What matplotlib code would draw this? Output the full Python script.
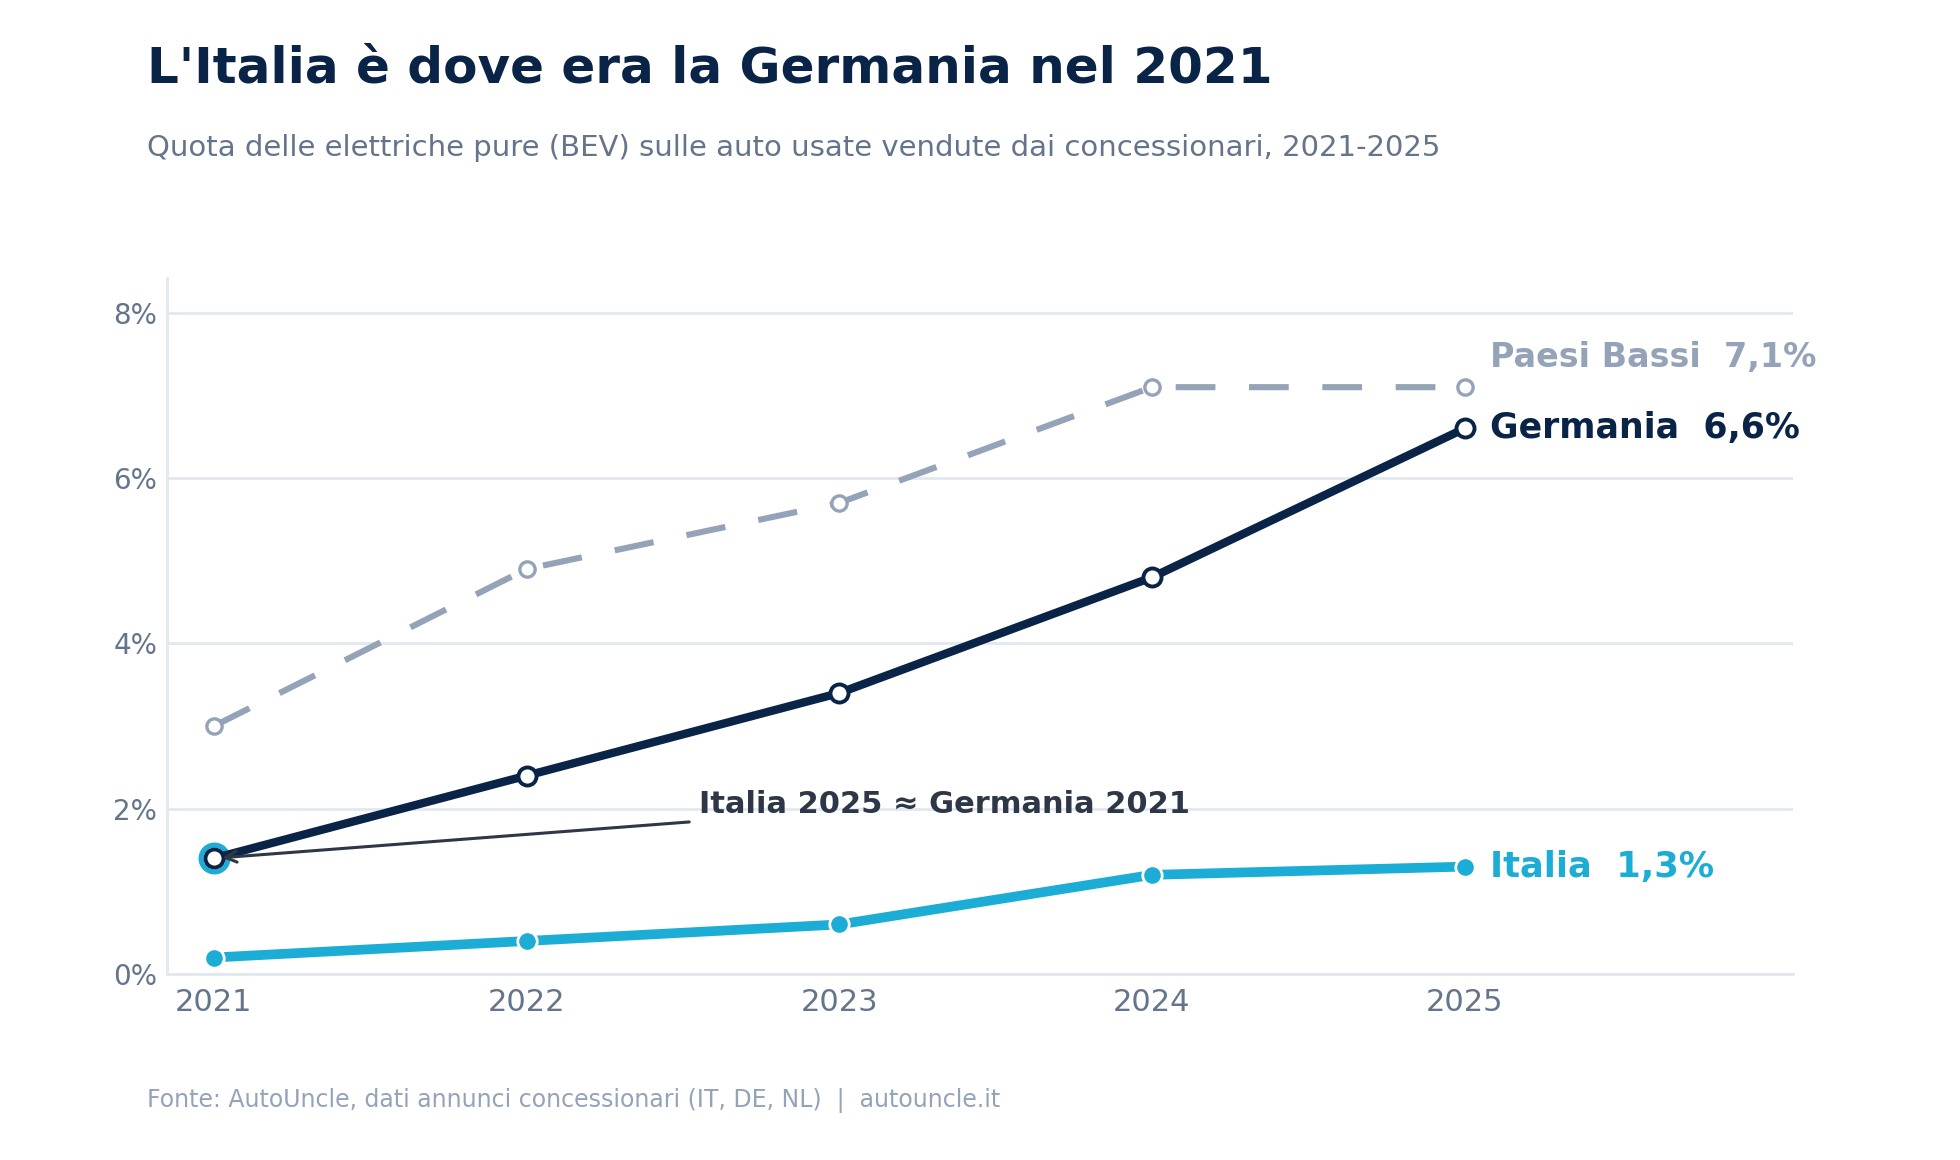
import matplotlib
matplotlib.use("Agg")
import matplotlib.pyplot as plt

# data
years = [2021, 2022, 2023, 2024, 2025]
paesi_bassi = [3.0, 4.9, 5.7, 7.1, 7.1]
germania = [1.4, 2.4, 3.4, 4.8, 6.6]
italia = [0.2, 0.4, 0.6, 1.2, 1.3]
y_ticks = [0, 2, 4, 6, 8]

title = "L'Italia è dove era la Germania nel 2021"
subtitle = "Quota delle elettriche pure (BEV) sulle auto usate vendute dai concessionari, 2021-2025"
footer = "Fonte: AutoUncle, dati annunci concessionari (IT, DE, NL)  |  autouncle.it"
note = "Italia 2025 ≈ Germania 2021"

NAVY = "#0a2447"
CYAN = "#1badd6"
GREY = "#94a3b8"
MUTED = "#64748b"
GRID = "#e2e8f0"


def fmt(v):
	return ("%.1f%%" % v).replace(".", ",")


def main():
	plt.rcParams['font.family'] = ['DejaVu Sans']
	fig = plt.figure(figsize=(9.8, 5.8), dpi=200)
	ax = fig.add_axes([0.0852, 0.1603, 0.8296, 0.6])

	# grid + spines
	ax.set_axisbelow(True)
	ax.grid(axis='y', color=GRID, lw=1.0)
	for s in ['top', 'right']:
		ax.spines[s].set_visible(False)
	for s in ['left', 'bottom']:
		ax.spines[s].set_color(GRID)
		ax.spines[s].set_linewidth(1.0)

	# series
	ax.plot(years, paesi_bassi, color=GREY, lw=2.2, dashes=(6.5, 5.5),
			marker='o', ms=5.5, mfc='white', mec=GREY, mew=1.2, zorder=3)
	ax.plot(years, italia, color=CYAN, lw=3.5, solid_capstyle='round',
			marker='o', ms=7, mfc=CYAN, mec='white', mew=1.0, zorder=4)
	# highlight ring around Germania 2021
	ax.plot(years[0], germania[0], marker='o', ms=9.7, mfc='none', mec=CYAN,
			mew=1.8, zorder=5)
	ax.plot(years, germania, color=NAVY, lw=3.0, solid_capstyle='round',
			marker='o', ms=6.5, mfc='white', mec=NAVY, mew=1.4, zorder=6)

	# end labels
	ax.text(2025.08, paesi_bassi[-1] + 0.36, "Paesi Bassi  " + fmt(paesi_bassi[-1]),
			color=GREY, fontsize=12, fontweight='bold', va='center', ha='left')
	ax.text(2025.08, germania[-1], "Germania  " + fmt(germania[-1]),
			color=NAVY, fontsize=12.5, fontweight='bold', va='center', ha='left')
	ax.text(2025.08, italia[-1], "Italia  " + fmt(italia[-1]),
			color=CYAN, fontsize=12.7, fontweight='bold', va='center', ha='left')

	# annotation
	ax.annotate('', xy=(years[0], germania[0]), xytext=(2022.52, 1.84),
				arrowprops=dict(arrowstyle='->', color='#2d3748', lw=1.1,
								shrinkA=0, shrinkB=3), zorder=7)
	ax.text(2022.55, 2.05, note, color='#2d3748', fontsize=11,
			fontweight='bold', va='center', ha='left')

	ax.set_xlim(2020.85, 2026.05)
	ax.set_ylim(0, 8.42)
	ax.set_xticks(years)
	ax.set_xticklabels([str(y) for y in years])
	ax.set_yticks(y_ticks)
	ax.set_yticklabels(["%d%%" % t for t in y_ticks])
	ax.tick_params(length=0, labelcolor=MUTED)
	ax.tick_params(axis='y', pad=3.5, labelsize=10)
	ax.tick_params(axis='x', pad=5, labelsize=11)

	fig.text(0.075, 0.929, title, fontsize=18, fontweight='bold',
			 color=NAVY, va='baseline', ha='left')
	fig.text(0.075, 0.8655, subtitle, fontsize=10.5, color=MUTED,
			 va='baseline', ha='left')
	fig.text(0.075, 0.0457, footer, fontsize=8.5, color=GREY,
			 va='baseline', ha='left')

	fig.savefig("out.png", dpi=200, facecolor='white')


if __name__ == '__main__':
	main()
